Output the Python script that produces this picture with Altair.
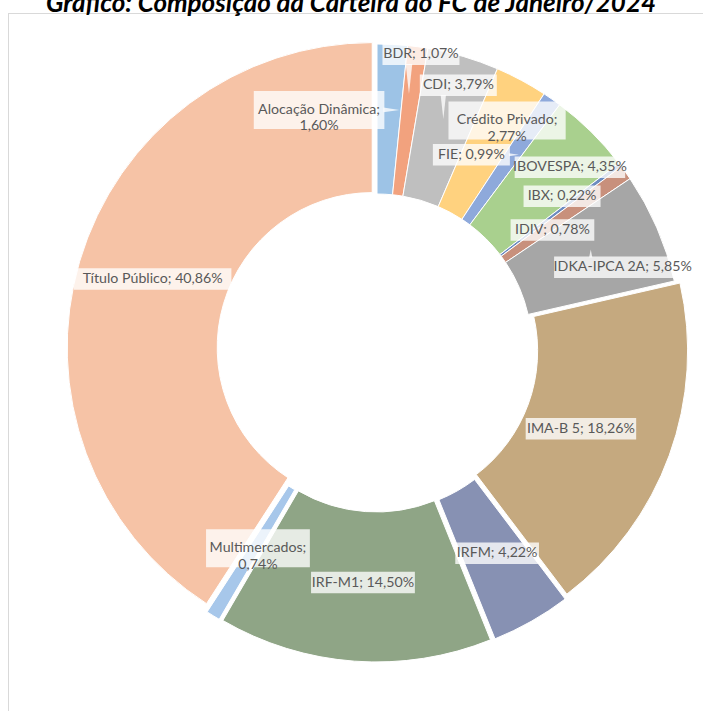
import altair as alt
import pandas as pd

# ---------------- data ----------------
categories = ["Alocação Dinâmica", "BDR", "CDI", "Crédito Privado", "FIE", "IBOVESPA",
              "IBX", "IDIV", "IDKA-IPCA 2A", "IMA-B 5", "IRFM", "IRF-M1",
              "Multimercados", "Título Público"]
values = [1.60, 1.07, 3.79, 2.77, 0.99, 4.35, 0.22, 0.78, 5.85, 18.26, 4.22, 14.50, 0.74, 40.86]
title_text = "Gráfico: Composição da Carteira do FC de Janeiro/2024"
two_line = ["Alocação Dinâmica", "Crédito Privado", "Multimercados"]

# ---------------- styles / layout ----------------
colors = ["#9DC3E6", "#F2A27E", "#BFBFBF", "#FFD27F", "#8EA9DB", "#A9D08E",
          "#6D8CC0", "#C8907C", "#A6A6A6", "#C5A97F", "#8791B3", "#8FA586",
          "#A7C7EA", "#F6C3A6"]
explode = [0, 0, 0, 0, 0, 0, 0, 0, 0, 6, 8, 8, 8, 5]          # px, slice explosion
label_r = [246, 298, 276, 263, 216, 265, 240, 212, 259, 219, 237, 234, 232, 235]  # px
label_shift = [-16.5, 0.8, 0.7, 1.4, -9.1, 2.1, -2.4, 1.2, 5, 1.4, -0.9, -0.7, -0.7, 0.9]  # deg
# callout pointers of the label boxes
pointer_dir = ["right", "down", "down", "none", "right", "none", "none", "none", "up",
               "none", "none", "none", "none", "none"]
pointer_len = [16, 30, 24, 0, 10, 0, 0, 0, 8, 0, 0, 0, 0, 0]
pointer_off = [0, -12, -15, 0, 0, 0, 0, 0, -32, 0, 0, 0, 0, 0]
CX, CY = 377, 349
R_IN, R_OUT = 155, 305
FONT = "Lato"
BOX_OPACITY = 0.78


def fmt(v):
    return f"{v:.2f}".replace(".", ",") + "%"


labels = [(c + ";\n" + fmt(v)) if c in two_line else (c + "; " + fmt(v))
          for c, v in zip(categories, values)]

df = pd.DataFrame({
    "order": list(range(len(categories))),
    "category": categories,
    "value": values,
    "label": labels,
    "explode": explode,
    "lr": label_r,
    "lshift": label_shift,
    "pdir": pointer_dir,
    "plen": pointer_len,
    "poff": pointer_off,
    "nchar": [max(len(s) for s in l.split("\n")) for l in labels],
    "nlines": [len(l.split("\n")) for l in labels],
})

base = alt.Chart(df).transform_window(
    cum="sum(value)", sort=[alt.SortField("order")], frame=[None, 0]
).transform_joinaggregate(
    total="sum(value)"
).transform_calculate(
    t1="2*PI*datum.cum/datum.total"
).transform_calculate(
    t0="2*PI*(datum.cum-datum.value)/datum.total"
).transform_calculate(
    mid="(datum.t0+datum.t1)/2"
).transform_calculate(
    ax=f"{CX} + datum.explode*sin(datum.mid)",
    ay=f"{CY} - datum.explode*cos(datum.mid)",
    la="datum.mid + datum.lshift*PI/180",
).transform_calculate(
    lx=f"{CX} + datum.lr*sin(datum.la)",
    ly=f"{CY} - datum.lr*cos(datum.la)",
).transform_calculate(
    bw="datum.nchar*6.7 + 10",
    bh="datum.nlines*16.5 + 5",
).transform_calculate(
    bx0="datum.lx - datum.bw/2",
    bx1="datum.lx + datum.bw/2",
    by0="datum.ly - datum.bh/2",
    by1="datum.ly + datum.bh/2",
).transform_calculate(
    pcx="datum.pdir == 'right' ? datum.bx1 + datum.plen/2 - 1 : datum.lx + datum.poff",
    pcy="datum.pdir == 'right' ? datum.ly + datum.poff : "
        "(datum.pdir == 'down' ? datum.by1 + datum.plen/2 - 1 : datum.by0 - datum.plen/2 + 1)",
    psize="datum.plen*datum.plen",
)

arcs = base.mark_arc(innerRadius=R_IN, outerRadius=R_OUT, stroke="white", strokeWidth=1).encode(
    theta=alt.Theta("t0:Q", scale=None, stack=False),
    theta2="t1:Q",
    x=alt.X("ax:Q", scale=None),
    y=alt.Y("ay:Q", scale=None),
    color=alt.Color("category:N", scale=alt.Scale(domain=categories, range=colors), legend=None),
    order=alt.Order("order:Q"),
)

boxes = base.mark_rect(fill="white", opacity=BOX_OPACITY).encode(
    x=alt.X("bx0:Q", scale=None), x2="bx1:Q",
    y=alt.Y("by0:Q", scale=None), y2="by1:Q",
)

shapes = {
    "right": "M -1 -0.3 L 1 0 L -1 0.3 Z",
    "down": "M -0.22 -1 L 0.22 -1 L 0 1 Z",
    "up": "M -0.4 1 L 0.4 1 L 0 -1 Z",
}
pointers = [
    base.transform_filter(f"datum.pdir == '{d}'").mark_point(
        shape=p, filled=True, fill="white", opacity=BOX_OPACITY, strokeWidth=0).encode(
        x=alt.X("pcx:Q", scale=None),
        y=alt.Y("pcy:Q", scale=None),
        size=alt.Size("psize:Q", scale=None),
    )
    for d, p in shapes.items()
]

texts = base.mark_text(font=FONT, fontSize=14.2, color="#595959", lineBreak="\n",
                       lineHeight=16.5, baseline="middle", align="center").encode(
    x=alt.X("lx:Q", scale=None),
    y=alt.Y("ly:Q", scale=None),
    text="label:N",
)

frame_df = pd.DataFrame({"k": [0]})
frame_top = alt.Chart(frame_df).mark_rule(color="#d9d9d9", strokeWidth=1).encode(
    x=alt.value(8), x2=alt.value(703), y=alt.value(13.5))
frame_left = alt.Chart(frame_df).mark_rule(color="#d9d9d9", strokeWidth=1).encode(
    x=alt.value(8.5), y=alt.value(13.5), y2=alt.value(711))

title = alt.Chart(pd.DataFrame({"t": [title_text]})).mark_text(
    font=FONT, fontSize=26, fontWeight="bold", fontStyle="italic", color="#000000",
    baseline="alphabetic", align="center").encode(
    x=alt.value(351), y=alt.value(12), text="t:N")

chart = alt.layer(frame_top, frame_left, arcs, boxes, *pointers, texts, title).properties(
    width=703, height=711, padding=0, autosize="none"
).configure_view(strokeWidth=0)

chart.save("out.html", embed_options={"renderer": "svg", "actions": False})
